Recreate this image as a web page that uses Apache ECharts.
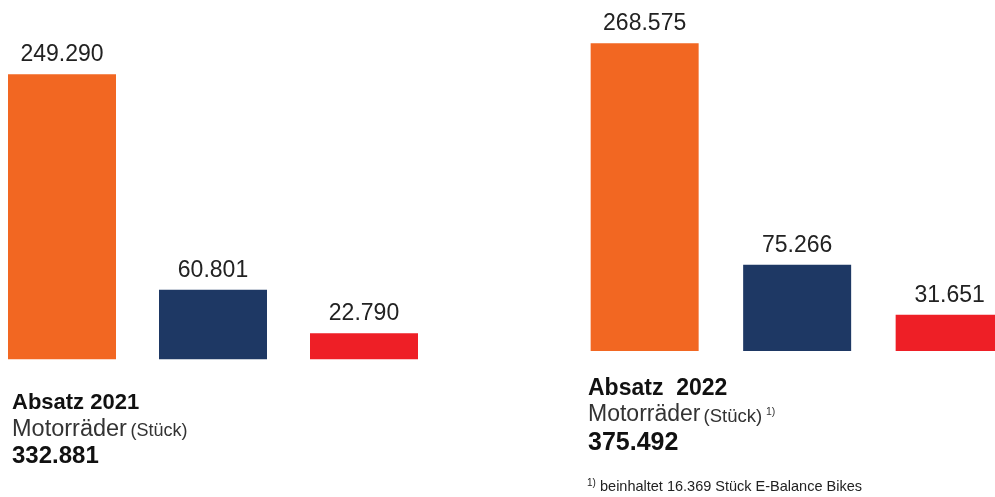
<!DOCTYPE html>
<html><head><meta charset="utf-8">
<script src="https://cdn.jsdelivr.net/npm/echarts@6/dist/echarts.min.js"></script>
<style>html,body{margin:0;padding:0;background:#fff}#c{width:995px;height:497px}</style>
</head><body><div id="c"></div>
<script>
// ---- data ----
const categories = ['KTM', 'Husqvarna', 'GASGAS'];
const values2021 = [249290, 60801, 22790];
const values2022 = [268575, 75266, 31651];
const years = ['2021', '2022'];
const totals = [332881, 375492];
const footnoteCount = 16369;

// ---- style ----
const barColors = ['#F26722', '#1E3864', '#EE1F26'];
const FONT = 'Liberation Sans, Arial, sans-serif';
const fmt = v => String(v).replace(/\B(?=(\d{3})+(?!\d))/g, '.');

function barSeries(idx, data) {
  return {
    type: 'bar', xAxisIndex: idx, yAxisIndex: idx, data: data,
    barWidth: 108,
    itemStyle: { color: p => barColors[p.dataIndex] },
    label: {
      show: true, position: 'top', distance: 8,
      formatter: p => fmt(p.value),
      fontFamily: FONT, fontSize: 23, color: '#222'
    },
    emphasis: { disabled: true },
    animation: false
  };
}
function cat(idx) {
  return { type: 'category', gridIndex: idx, data: categories, show: false };
}
function val(idx) {
  return { type: 'value', gridIndex: idx, min: 0, max: 300000, show: false, splitLine: { show: false } };
}
function txt(x, y, s, size, bold, color) {
  return {
    type: 'text', x: x, y: y, silent: true,
    style: {
      text: s, fontFamily: FONT, fontSize: size, fontWeight: bold ? 'bold' : 'normal',
      fill: color, align: 'left', verticalAlign: 'middle'
    }
  };
}

const chart = echarts.init(document.getElementById('c'), null, { renderer: 'canvas' });
chart.setOption({
  backgroundColor: '#fff',
  animation: false,
  grid: [
    { left: -13.5, width: 453, top: 16.3, height: 343, containLabel: false, outerBoundsMode: 'none' },
    { left: 568.4, width: 457.5, top: 7.2, height: 343.8, containLabel: false, outerBoundsMode: 'none' }
  ],
  xAxis: [cat(0), cat(1)],
  yAxis: [val(0), val(1)],
  series: [barSeries(0, values2021), barSeries(1, values2022)],
  graphic: [
    txt(12, 402.5, 'Absatz ' + years[0], 22, true, '#111'),
    txt(12, 429.8, 'Motorräder', 23.5, false, '#333'),
    txt(130.5, 431, '(Stück)', 18, false, '#333'),
    txt(12, 456.3, fmt(totals[0]), 24, true, '#111'),

    txt(588, 388.7, 'Absatz  ' + years[1], 23, true, '#111'),
    txt(588, 415, 'Motorräder', 23, false, '#333'),
    txt(703.5, 416.9, '(Stück)', 18.5, false, '#333'),
    txt(766, 412.5, '1)', 10.5, false, '#333'),
    txt(588, 443, fmt(totals[1]), 25, true, '#111'),

    txt(587, 483, '1)', 10, false, '#222'),
    txt(600, 486.7, 'beinhaltet ' + fmt(footnoteCount) + ' Stück E-Balance Bikes', 14.5, false, '#222')
  ]
});
</script>
</body></html>
